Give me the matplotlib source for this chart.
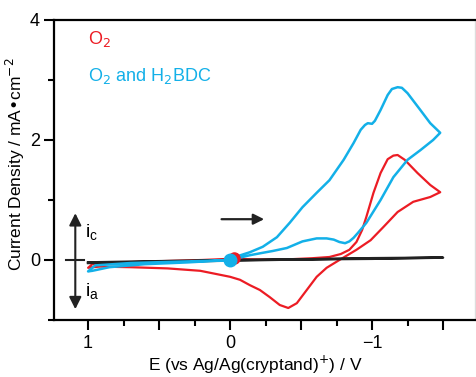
import matplotlib.pyplot as plt
from matplotlib.ticker import MultipleLocator, FixedLocator

plt.rcParams['font.family'] = ['Liberation Sans', 'DejaVu Sans']

# O2 + H2BDC (blue)
e_bdc = [0.0, -0.035, -0.14, -0.23, -0.33, -0.42, -0.51, -0.61, -0.70, -0.80, -0.87,
         -0.92, -0.95, -0.97, -1.0, -1.02, -1.06, -1.11, -1.14, -1.18, -1.21, -1.25,
         -1.34, -1.41, -1.48,
         -1.43, -1.34, -1.25, -1.15, -1.06, -0.96, -0.9, -0.87, -0.84, -0.81, -0.77,
         -0.73, -0.68, -0.61, -0.51, -0.4, -0.3, -0.23, -0.14, -0.07, 0.0,
         0.3, 0.6, 0.85, 0.97, 1.0, 0.95, 0.7, 0.4, 0.1, 0.0]
j_bdc = [0.0, 0.05, 0.13, 0.22, 0.38, 0.62, 0.88, 1.12, 1.33, 1.67, 1.95,
         2.17, 2.25, 2.28, 2.27, 2.32, 2.5, 2.75, 2.85, 2.88, 2.87, 2.78,
         2.5, 2.28, 2.12,
         2.0, 1.83, 1.67, 1.38, 1.0, 0.62, 0.45, 0.37, 0.31, 0.28, 0.3,
         0.34, 0.36, 0.36, 0.31, 0.2, 0.15, 0.12, 0.08, 0.04, 0.0,
         -0.04, -0.07, -0.12, -0.18, -0.19, -0.09, -0.05, -0.03, -0.01, 0.0]

# O2 only (red)
e_o2 = [0.0, -0.2, -0.4, -0.58, -0.7, -0.78, -0.84, -0.89, -0.93, -0.96, -1.01,
        -1.06, -1.11, -1.15, -1.18, -1.23, -1.32, -1.41, -1.48,
        -1.41, -1.29, -1.18, -1.08, -0.99, -0.89, -0.77, -0.68, -0.61, -0.54, -0.47,
        -0.41, -0.35, -0.28, -0.21, -0.14, -0.07, 0.0, 0.21, 0.44,
        0.7, 0.92, 1.0, 0.97, 0.8, 0.5, 0.2, 0.0]
j_o2 = [0.02, 0.01, 0.01, 0.03, 0.05, 0.1, 0.17, 0.3, 0.5, 0.72, 1.12,
        1.45, 1.68, 1.74, 1.75, 1.67, 1.45, 1.25, 1.13,
        1.05, 0.97, 0.8, 0.55, 0.33, 0.17, 0.0, -0.13, -0.28, -0.5, -0.72,
        -0.8, -0.75, -0.62, -0.5, -0.42, -0.33, -0.28, -0.18, -0.14,
        -0.12, -0.11, -0.13, -0.07, -0.04, -0.02, 0.0, 0.02]

# blank (black)
e_blank = [1.0, 0.5, 0.0, -0.5, -1.0, -1.5, -1.0, -0.5, 0.0, 0.5, 1.0]
j_blank = [-0.04, -0.02, 0.0, 0.01, 0.02, 0.04, 0.03, 0.01, -0.01, -0.03, -0.05]

red = '#ec1c24'
blue = '#13b0e8'

fig = plt.figure(figsize=(4.76, 3.77), dpi=100)
ax = fig.add_axes([54 / 476, 57 / 377, 421 / 476, 300 / 377])

ax.plot(e_o2, j_o2, color=red, lw=1.6, zorder=2)
ax.plot(e_blank, j_blank, color='#222222', lw=1.8, zorder=3)
ax.plot(e_bdc, j_bdc, color=blue, lw=1.8, zorder=4)
ax.plot([-0.03], [0.03], 'o', color=red, ms=8, zorder=4)
ax.plot([0.0], [0.0], 'o', color=blue, ms=9, zorder=5)

ax.set_xlim(1.24, -1.725)
ax.set_ylim(-1, 4)

ax.xaxis.set_major_locator(MultipleLocator(0.5))
ax.xaxis.set_minor_locator(MultipleLocator(0.25))
ax.xaxis.set_major_formatter(plt.FuncFormatter(
    lambda v, p: {1.0: '1', 0.0: '0', -1.0: '\u22121'}.get(round(v, 2), '')))
ax.yaxis.set_major_locator(FixedLocator([0, 2, 4]))
ax.yaxis.set_minor_locator(FixedLocator([-1, 1, 3]))

ax.tick_params(which='major', direction='out', length=7, width=1.5, labelsize=13, pad=3)
ax.tick_params(which='minor', direction='out', length=4, width=1.5)
ax.tick_params(axis='x', which='major', pad=4)

for s in ['left', 'bottom', 'top']:
    ax.spines[s].set_linewidth(1.6)
ax.spines['right'].set_color('#dddddd')
ax.spines['right'].set_linewidth(1)

ax.set_xlabel('E (vs Ag/Ag(cryptand)$^{+}$) / V', fontsize=12.5)
ax.xaxis.set_label_coords(0.477, -0.112)
ax.set_ylabel('Current Density / mA\u2022cm$^{-2}$', fontsize=12.5)
ax.yaxis.set_label_coords(-0.065, 0.52)

ax.text(1.0, 3.69, 'O$_2$', color=red, fontsize=13, va='center', ha='left')
ax.text(1.0, 3.07, 'O$_2$ and H$_2$BDC', color=blue, fontsize=13, va='center', ha='left')

# current direction marker
ax.annotate('', xy=(1.09, 0.78), xytext=(1.09, -0.82),
            arrowprops=dict(arrowstyle='<|-|>', color='#222222', lw=1.5,
                            mutation_scale=18, shrinkA=0, shrinkB=0))
ax.plot([1.155, 1.03], [0, 0], color='#222222', lw=1.5)
ax.text(1.02, 0.45, 'i$_\\mathregular{c}$', fontsize=14, va='center', ha='left')
ax.text(1.02, -0.53, 'i$_\\mathregular{a}$', fontsize=14, va='center', ha='left')

# scan direction arrow
ax.annotate('', xy=(-0.24, 0.68), xytext=(0.06, 0.68),
            arrowprops=dict(arrowstyle='-|>', color='#222222', lw=1.6,
                            mutation_scale=16, shrinkA=0, shrinkB=0))

fig.savefig('out.png', dpi=100)
